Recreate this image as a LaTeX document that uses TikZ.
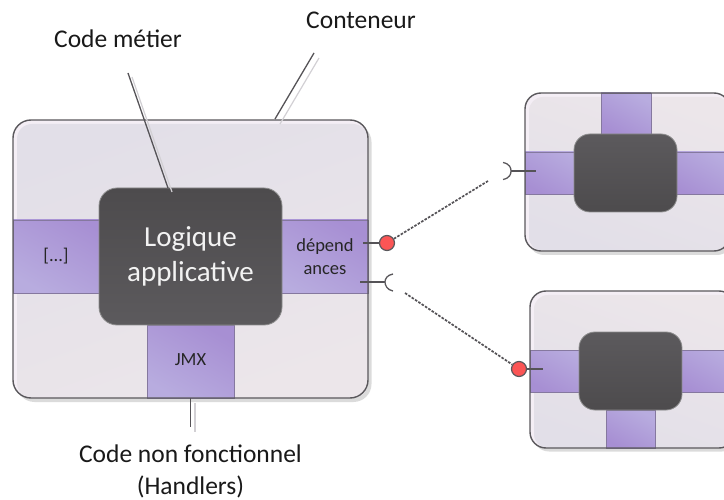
\documentclass[tikz,border=0pt]{standalone}
\usepackage{fontspec}
\setmainfont{Carlito}
\definecolor{edge}{HTML}{5A585C}
\definecolor{rim}{HTML}{F4EEF5}
\definecolor{paleA}{HTML}{E2DFE8}
\definecolor{paleB}{HTML}{ECE6EA}
\definecolor{bandA}{HTML}{A78FD3}
\definecolor{bandB}{HTML}{B8ACDF}
\definecolor{bandEdge}{HTML}{85789F}
\definecolor{darkA}{HTML}{4D4B4D}
\definecolor{darkB}{HTML}{5C5A5D}
\definecolor{leader}{HTML}{555357}
\definecolor{ghost}{HTML}{D2D0D4}
\definecolor{plug}{HTML}{FB5555}
\tikzset{
  x=1pt,y=-1pt,
  boxbase/.style={rectangle,inner sep=0pt,outer sep=0pt,anchor=center},
  shadowbox/.style={boxbase,rounded corners=#1,fill=black!14},
  rimbox/.style={boxbase,rounded corners=#1,fill=rim},
  palebox/.style={boxbase,rounded corners=#1,top color=paleA,bottom color=paleB,shading angle=20},
  palebottom/.style={boxbase,rounded corners=#1,bottom color=paleA,top color=paleB,shading angle=-20},
  outline/.style={boxbase,rounded corners=#1,draw=edge,line width=1.4pt},
  bandbox/.style={boxbase,draw=bandEdge,line width=.7pt,top color=bandA,bottom color=bandB,shading angle=-30},
  bandrev/.style={boxbase,draw=bandEdge,line width=.7pt,top color=bandB,bottom color=bandA,shading angle=-30},
  darkbox/.style={boxbase,rounded corners=#1,draw=black!45,line width=.8pt,top color=darkA,bottom color=darkB,text=white},
  darkrev/.style={boxbase,rounded corners=#1,draw=black!45,line width=.8pt,top color=darkB,bottom color=darkA},
  label/.style={inner sep=0pt,font=\fontsize{25.5}{32}\selectfont,text=black!90,align=center},
  small/.style={inner sep=0pt,font=\fontsize{18.5}{23}\selectfont,text=black!85,align=center},
  big/.style={inner sep=0pt,font=\fontsize{29}{35}\selectfont,text=white!95!black,align=center},
  lead/.style={draw=leader,line width=1.3pt},
  ghostline/.style={draw=ghost,line width=1.2pt},
  stem/.style={draw=leader,line width=1.2pt},
  wire/.style={draw=leader,line width=1.7pt,dash pattern=on 2.6pt off 1.4pt},
  plugnode/.style={circle,draw=edge,line width=1.2pt,fill=plug,minimum size=15pt,inner sep=0pt},
  socket/.style={draw=edge,line width=1.3pt},
}
\begin{document}
\begin{tikzpicture}
\useasboundingbox (0,0) rectangle (724,500);
% ------- main container
\node[shadowbox=18pt,minimum width=355pt,minimum height=278pt] at (194,263) {};
\node[rimbox=18pt,minimum width=355pt,minimum height=278pt] (main) at (190.5,259) {};
\node[palebox=15pt,minimum width=351pt,minimum height=274pt] at (192.5,261) {};
\node[bandbox,minimum width=100pt,minimum height=73pt] (bandl) at (63,256.5) {};
\node[bandbox,minimum width=100pt,minimum height=73pt] (bandr) at (318,256.5) {};
\node[bandbox,minimum width=87pt,minimum height=73pt] (jmx) at (190.5,361.5) {};
\node[outline=18pt,minimum width=355pt,minimum height=278pt] (mainedge) at (190.5,259) {};
\node[darkbox=18pt,minimum width=183pt,minimum height=137pt] (logic) at (190.5,256.5) {};
\node[big] at (190.5,256) {Logique\\applicative};
\node[small] at (56,256) {[...]};
\node[small] at (325,256.5) {dépend\\ances};
\node[small] (jmxlabel) at (190.5,360) {JMX};
% ------- top-right container
\node[shadowbox=16pt,minimum width=205pt,minimum height=158pt] at (630.5,176) {};
\node[rimbox=16pt,minimum width=205pt,minimum height=158pt] (topbox) at (627.5,172) {};
\node[palebottom=14pt,minimum width=201pt,minimum height=154pt] at (629.5,174) {};
\node[bandrev,minimum width=60pt,minimum height=42pt] at (555,173) {};
\node[bandrev,minimum width=60pt,minimum height=42pt] at (700,173) {};
\node[bandrev,minimum width=50pt,minimum height=41pt] at (626,113.5) {};
\node[outline=16pt,minimum width=205pt,minimum height=158pt] at (627.5,172) {};
\node[darkrev=16pt,minimum width=103pt,minimum height=78pt] (topdark) at (625.5,173) {};
% ------- bottom-right container
\node[shadowbox=16pt,minimum width=205pt,minimum height=157pt] at (635.5,373) {};
\node[rimbox=16pt,minimum width=205pt,minimum height=157pt] (lowbox) at (632.5,369.5) {};
\node[palebottom=14pt,minimum width=201pt,minimum height=153pt] at (634.5,371.5) {};
\node[bandrev,minimum width=60pt,minimum height=42pt] at (560,371) {};
\node[bandrev,minimum width=60pt,minimum height=42pt] at (705,371) {};
\node[bandrev,minimum width=49pt,minimum height=38pt] at (630.5,429) {};
\node[outline=16pt,minimum width=205pt,minimum height=157pt] at (632.5,369.5) {};
\node[darkrev=16pt,minimum width=103pt,minimum height=78pt] (lowdark) at (630.5,371) {};
% ------- labels
\node[label] (conteneur) at (361,20) {Conteneur};
\node[label] (metier) at (118,39) {Code métier};
\node[label] (nonfonc) at (190.5,471) {Code non fonctionnel\\(Handlers)};
% ------- leaders
\coordinate (c1) at (314,53); \coordinate (c2) at (275,119);
\coordinate (g1) at (319,58); \coordinate (g2) at (280,124);
\draw[ghostline] (g1) -- (g2);
\draw[lead] (c1) -- (c2);
\coordinate (m1) at (128,73); \coordinate (m2) at (168,188);
\coordinate (n1) at (132,77); \coordinate (n2) at (172,192);
\draw[ghostline] (n1) -- (n2);
\draw[lead] (m1) -- (m2);
\coordinate (b1) at (190.5,398); \coordinate (b2) at (190.5,427);
\coordinate (d1) at (195,403); \coordinate (d2) at (195,432);
\draw[ghostline] (d1) -- (d2);
\draw[lead] (b1) -- (b2);
% ------- connectors
\node[plugnode] (plugA) at (387,243) {};
\coordinate (plugAin) at (363,243);
\draw[stem] (plugAin) -- (plugA);
\coordinate (sockA) at (511,171);
\coordinate (sockAin) at (536,171);
\draw[stem] (sockA) -- (sockAin);
\draw[socket] (503,162.5) .. controls (510,164) and (511,168) .. (sockA) .. controls (511,174) and (510,178) .. (503,179.5);
\coordinate (wireAend) at (488,181);
\draw[wire] (plugA) -- (wireAend);
\coordinate (sockB) at (385,282);
\coordinate (sockBin) at (360,282);
\draw[stem] (sockBin) -- (sockB);
\draw[socket] (393,274) .. controls (387,275) and (385,279) .. (sockB) .. controls (385,285) and (387,290) .. (393,291);
\node[plugnode] (plugB) at (519,369) {};
\coordinate (plugBin) at (543,369);
\draw[stem] (plugB) -- (plugBin);
\coordinate (wireBend) at (405,293);
\draw[wire] (wireBend) -- (plugB);
\end{tikzpicture}
\end{document}
